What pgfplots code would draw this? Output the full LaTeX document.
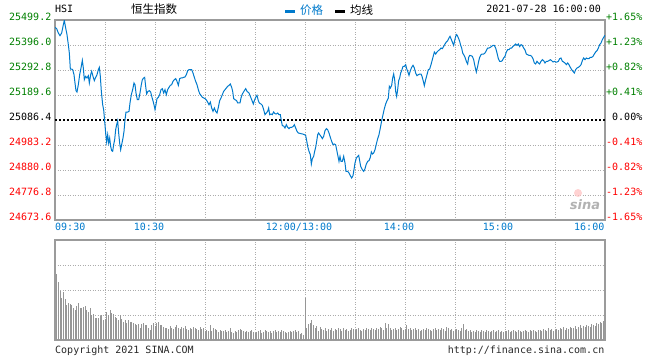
\documentclass[border=0pt]{standalone}
\usepackage{pgfplots}
\pgfplotsset{compat=1.18}
\usepackage{fontspec}
\newfontfamily\mono{DejaVu Sans Mono}
\newfontfamily\cjk{Noto Sans CJK SC}
\newfontfamily\sinafont{DejaVu Sans}
\definecolor{gridc}{RGB}{172,172,172}
\definecolor{borderc}{RGB}{155,155,155}
\definecolor{linec}{RGB}{0,122,204}
\definecolor{gr}{RGB}{0,128,0}
\definecolor{rd}{RGB}{255,0,0}
\definecolor{volc}{RGB}{150,150,150}
\definecolor{txt}{RGB}{40,40,40}
\newcommand{\tf}{\mono\fontsize{10bp}{12bp}\selectfont}

\pgfplotstableread{
t p
0 25468.9
1 25463.4
2 25445.5
3 25434.5
4 25445.5
5 25479.9
5.6 25497.8
6.4 25466.2
7.2 25438.7
8 25397.4
8.6 25363.0
9.2 25296.9
10 25296.9
10.6 25294.2
11.4 25273.5
12 25239.1
12.6 25207.5
13.2 25202.0
14 25232.3
14.8 25273.5
15.6 25301.1
16.4 25332.7
17 25301.1
17.6 25252.9
18.4 25266.7
19.2 25259.8
20 25269.4
20.6 25239.1
21.4 25273.5
22 25287.3
22.8 25266.7
23.6 25248.8
24.4 25262.5
25.2 25273.5
26 25294.2
26.6 25303.8
27.2 25266.7
27.8 25204.7
28.6 25149.7
29.2 25129.1
29.8 25080.9
30.4 25032.7
31 24995.6
31.6 25025.9
32.2 24991.5
32.8 25012.1
33.4 24977.7
34 24959.8
34.6 24957.1
35.2 24984.6
35.8 25005.2
36.4 25046.5
37 25067.1
37.6 25083.6
38.2 25032.7
38.8 24991.5
39.4 24963.9
40 24984.6
40.8 25012.1
41.4 25039.6
42 25087.8
42.6 25119.4
43.6 25119.4
44.4 25122.2
45 25156.6
45.8 25191.0
46.6 25211.6
47.4 25239.1
48 25232.3
48.6 25197.9
49.4 25170.3
50.2 25170.3
51 25197.9
51.8 25232.3
52.4 25252.9
53.2 25259.8
53.8 25262.5
54.4 25225.4
55 25193.7
55.8 25204.7
56.6 25207.5
57.4 25202.0
58.2 25180.0
59 25160.7
59.6 25142.8
60 25129.1
60.6 25149.7
61.2 25174.5
62 25180.0
62.8 25191.0
63.6 25211.6
64.4 25215.7
65.2 25197.9
66 25211.6
66.8 25191.0
67.6 25211.6
68.4 25221.2
69.2 25229.5
70 25232.3
70.8 25246.0
71.6 25252.9
72.4 25257.0
73.2 25246.0
74 25229.5
74.8 25257.0
75.6 25259.8
76.4 25259.8
77.2 25262.5
78 25263.9
78.8 25273.5
79.6 25290.0
80.4 25294.2
81.2 25294.2
82 25294.2
82.8 25280.4
83.6 25262.5
84.4 25246.0
85.2 25232.3
86 25211.6
86.8 25195.1
87.6 25188.2
88.4 25180.0
89.2 25177.2
90 25174.5
90.8 25169.0
91.6 25160.7
92.4 25149.7
93.2 25160.7
94 25135.9
94.8 25122.2
95.6 25135.9
96.4 25122.2
97.2 25115.3
98 25138.7
98.8 25166.2
99.6 25177.2
100.4 25191.0
101.2 25204.7
102 25211.6
102.8 25218.5
103.6 25225.4
104.4 25229.5
105.2 25235.0
106 25221.2
106.6 25204.7
107.2 25174.5
108 25170.3
109 25166.2
109.6 25156.6
111 25156.6
111.6 25177.2
112.4 25193.7
113.6 25207.5
114.4 25215.7
115.2 25204.7
116.4 25197.9
117.2 25184.1
118 25170.3
119 25152.4
119.6 25166.2
120.4 25180.0
121.2 25188.2
122 25166.2
122.6 25156.6
123.6 25152.4
124.4 25146.9
125.2 25129.1
126 25108.4
126.8 25115.3
127.6 25122.2
128.2 25135.9
128.8 25108.4
129.6 25111.2
130.4 25108.4
131.2 25119.4
132 25112.5
132.8 25111.2
133.6 25115.3
134.4 25108.4
135.2 25108.4
135.8 25083.6
136.4 25063.0
137.2 25061.6
138 25053.4
138.8 25067.1
139.6 25056.1
140.4 25050.6
141.2 25056.1
142 25056.1
142.8 25058.9
143.6 25067.1
144.4 25053.4
145.2 25039.6
146 25032.7
146.8 25031.4
147.6 25030.0
148.6 25028.6
149.6 25025.9
150.4 25023.1
151 25001.1
151.6 24977.7
152.4 24957.1
153.2 24943.3
153.8 24904.8
154.4 24926.8
155.2 24936.4
155.8 24957.1
156.4 24973.6
157 24998.3
157.6 25025.9
158.2 25032.7
158.8 25025.9
159.6 25019.0
160.4 25009.3
161.2 25019.0
162 25042.4
162.8 25050.6
163.6 25046.5
164.4 25032.7
165.2 25014.8
166 24998.3
166.8 24984.6
167.6 24987.3
168.4 24984.6
169 24963.9
169.6 24943.3
170.4 24915.8
171 24936.4
171.6 24915.8
172.4 24915.8
173.2 24936.4
174 24908.9
174.6 24874.5
175.6 24874.5
176.4 24867.6
177.2 24856.6
178 24847.0
178.8 24856.6
179.4 24881.4
180 24908.9
180.8 24929.5
181.6 24936.4
182.2 24940.5
182.8 24918.5
183.4 24895.1
184.4 24881.4
185.2 24874.5
186 24885.5
186.8 24904.8
187.6 24915.8
188.4 24918.5
189.2 24932.3
189.8 24954.3
190.4 24946.0
191.2 24950.2
192 24963.9
192.8 24987.3
193.6 25009.3
194.4 25025.9
195.2 25053.4
196 25083.6
196.8 25108.4
197.6 25133.2
198.4 25152.4
199.2 25166.2
200 25177.2
200.6 25225.4
201.2 25218.5
202 25229.5
202.6 25259.8
203.2 25276.3
203.8 25252.9
204.4 25204.7
205 25184.1
205.6 25211.6
206.2 25248.8
206.8 25259.8
207.4 25280.4
208 25290.0
208.8 25307.9
209.6 25307.9
210.4 25314.8
211 25298.3
211.6 25287.3
212.4 25270.8
213.2 25290.0
214 25303.8
214.8 25312.1
215.6 25301.1
216.4 25280.4
217.2 25269.4
218 25273.5
218.8 25276.3
219.6 25276.3
220.2 25266.7
221 25246.0
221.6 25228.1
222.4 25252.9
223.2 25273.5
224 25294.2
224.8 25296.9
225.6 25314.8
226.4 25335.5
227.2 25356.1
227.6 25367.1
228.4 25358.8
229.2 25367.1
230 25372.6
230.8 25376.7
231.6 25383.6
232.4 25380.9
233.2 25390.5
234 25400.1
234.8 25408.4
235.6 25413.9
236.4 25424.9
237 25431.8
237.6 25422.1
238.4 25408.4
239.2 25394.6
239.8 25413.9
240.4 25431.8
241 25438.7
241.6 25431.8
242.2 25422.1
242.8 25411.1
243.4 25394.6
244 25383.6
244.6 25363.0
245.2 25356.1
246 25345.1
246.8 25328.6
247.6 25317.6
248.2 25345.1
248.8 25353.3
249.6 25351.9
250.4 25349.2
251.2 25335.5
252 25307.9
252.8 25284.5
253.6 25307.9
254.2 25328.6
254.8 25345.1
255.6 25356.1
256.4 25358.8
257.2 25358.8
258 25363.0
258.8 25372.6
259.6 25383.6
260.4 25383.6
261.2 25386.4
262 25390.5
262.8 25394.6
263.6 25394.6
264.4 25383.6
265.2 25363.0
266 25339.6
266.8 25328.6
267.6 25328.6
268.4 25331.3
269.2 25342.3
270 25349.2
270.8 25367.1
271.6 25376.7
272.4 25376.7
273.2 25383.6
274 25383.6
274.8 25390.5
275.6 25394.6
276.4 25400.1
277.2 25394.6
278 25400.1
278.8 25389.1
279.6 25397.4
280.4 25394.6
281.2 25383.6
282 25375.4
282.8 25358.8
283.6 25356.1
284.4 25353.3
285.2 25353.3
286 25349.2
286.8 25339.6
287.6 25321.7
288.4 25317.6
289.2 25328.6
290 25321.7
290.8 25317.6
291.6 25328.6
292.4 25335.5
293.2 25331.3
294 25321.7
294.8 25328.6
295.6 25328.6
296.4 25331.3
297.2 25335.5
298 25331.3
298.8 25325.8
299.6 25328.6
300.4 25325.8
301.2 25325.8
302 25328.6
302.8 25339.6
303.6 25342.3
304.4 25328.6
305.2 25325.8
306 25321.7
306.8 25314.8
307.6 25321.7
308.4 25314.8
309.2 25303.8
310 25294.2
310.8 25287.3
311.6 25280.4
312.4 25294.2
313.2 25301.1
314 25303.8
314.8 25307.9
315.6 25314.8
316.4 25331.3
317.2 25342.3
318 25335.5
318.8 25342.3
319.6 25339.6
320.4 25339.6
321.2 25345.1
322 25345.1
322.8 25349.2
323.6 25358.8
324.4 25367.1
325.2 25372.6
326 25383.6
326.8 25397.4
327.6 25404.3
328.4 25418.0
329.2 25427.6
330 25435.9
}\pricetable

\pgfplotstableread{
t v
1 66
2 58
3 49
4 42
5 48
6 41
7 35
8 37
9 36
10 35
11 32
12 30
13 34
14 37
15 32
16 32
17 33
18 34
19 30
20 28
21 32
22 25
23 26
24 22
25 22
26 22
27 24
28 25
29 20
30 21
31 28
32 25
33 30
34 27
35 26
36 23
37 22
38 20
39 25
40 21
41 18
42 20
43 17
44 20
45 18
46 18
47 17
48 16
49 15
50 16
51 12
52 16
53 17
54 15
55 15
56 12
57 10
58 15
59 17
60 14
61 17
62 18
63 15
64 15
65 13
66 12
67 12
68 11
69 14
70 12
71 11
72 13
73 15
74 12
75 11
76 13
77 12
78 14
79 11
80 10
81 12
82 11
83 13
84 12
85 11
86 10
87 13
88 11
89 12
90 9
91 10
92 9
93 15
94 9
95 12
96 11
97 10
98 8
99 10
100 9
101 9
102 10
103 8
104 9
105 12
106 8
107 7
108 9
109 8
110 10
111 11
112 10
113 9
114 8
115 9
116 8
117 9
118 10
119 8
120 7
121 8
122 9
123 10
124 7
125 8
126 10
127 9
128 8
129 9
130 7
131 9
132 10
133 8
134 9
135 8
136 10
137 9
138 8
139 7
140 8
141 9
142 8
143 9
144 10
145 8
146 9
147 6
148 7
149 5
150 42
151 12
152 16
153 17
154 20
155 15
156 12
157 14
158 9
159 13
160 11
161 10
162 12
163 9
164 11
165 10
166 12
167 9
168 11
169 10
170 12
171 11
172 9
173 12
174 10
175 11
176 9
177 10
178 12
179 11
180 10
181 11
182 12
183 10
184 9
185 11
186 10
187 12
188 11
189 10
190 12
191 11
192 10
193 12
194 11
195 13
196 12
197 10
198 17
199 12
200 16
201 12
202 10
203 11
204 12
205 10
206 11
207 13
208 12
209 10
210 11
211 15
212 11
213 12
214 10
215 11
216 12
217 10
218 11
219 9
220 10
221 11
222 10
223 12
224 11
225 10
226 9
227 11
228 12
229 10
230 11
231 10
232 12
233 11
234 9
235 13
236 12
237 10
238 11
239 9
240 10
241 11
242 10
243 9
244 12
245 16
246 10
247 11
248 9
249 10
250 8
251 9
252 8
253 10
254 9
255 8
256 10
257 9
258 8
259 10
260 9
261 8
262 9
263 10
264 8
265 9
266 10
267 8
268 9
269 8
270 9
271 9
272 10
273 8
274 9
275 10
276 9
277 8
278 10
279 9
280 8
281 9
282 10
283 9
284 8
285 10
286 9
287 10
288 9
289 8
290 10
291 10
292 9
293 11
294 10
295 9
296 12
297 10
298 11
299 9
300 10
301 11
302 10
303 12
304 11
305 13
306 10
307 12
308 11
309 13
310 12
311 12
312 14
313 11
314 13
315 15
316 12
317 14
318 13
319 15
320 14
321 13
322 16
323 15
324 14
325 17
326 16
327 18
328 17
329 19
330 20
}\voltable

\begin{document}
\begin{tikzpicture}
\path[use as bounding box] (0,0) rectangle (660bp,-360bp);

% ---------- price panel ----------
\begin{axis}[
  at={(55bp,-220bp)}, anchor=south west, scale only axis,
  width=550bp, height=200bp,
  xmin=0, xmax=330, ymin=24673.6, ymax=25499.2,
  xtick={30,60,...,300},
  ytick={24776.8,24880.0,24983.2,25189.6,25292.8,25396.0},
  xticklabels={}, yticklabels={},
  scaled x ticks=false, scaled y ticks=false,
  major tick length=0pt,
  grid=major,
  major grid style={gridc, line width=1bp, dash pattern=on 1bp off 1.5bp},
  axis line style={borderc, line width=1.3bp},
]
\addplot[black, line width=1.1bp, dash pattern=on 2bp off 2bp] coordinates {(0,25086.4) (330,25086.4)};
\addplot[linec, line width=1bp, line join=miter] table[x=t, y=p] {\pricetable};
\end{axis}

% ---------- volume panel ----------
\begin{axis}[
  at={(55bp,-340bp)}, anchor=south west, scale only axis,
  width=550bp, height=100bp,
  xmin=0, xmax=330, ymin=0, ymax=100,
  xtick={30,60,...,300},
  ytick={25,50,75},
  xticklabels={}, yticklabels={},
  scaled x ticks=false, scaled y ticks=false,
  major tick length=0pt,
  grid=major,
  major grid style={gridc, line width=1bp, dash pattern=on 1bp off 1.5bp},
  axis line style={borderc, line width=1.3bp},
]
\addplot[ycomb, volc, line width=1bp, mark=none] table[x=t, y=v] {\voltable};
\end{axis}

% ---------- header ----------
\node[anchor=base west, inner sep=0pt, text=black] at (55bp,-12.7bp) {\tf HSI};
\node[anchor=center, inner sep=0pt, text=black] at (154bp,-9.5bp) {\cjk\fontsize{11.5bp}{13bp}\selectfont 恒生指数};
\fill[linec] (285bp,-10bp) rectangle (295bp,-12.5bp);
\node[anchor=west, inner sep=0pt, text=linec] at (300bp,-10bp) {\cjk\fontsize{11.5bp}{13bp}\selectfont 价格};
\fill[black] (335bp,-10bp) rectangle (345bp,-12.5bp);
\node[anchor=west, inner sep=0pt, text=black] at (350bp,-10bp) {\cjk\fontsize{11.5bp}{13bp}\selectfont 均线};
\node[anchor=base east, inner sep=0pt, text=black] at (601bp,-12.7bp) {\tf 2021-07-28 16:00:00};

% ---------- left price labels ----------
\foreach \yy/\lab/\col in {20/25499.2/gr, 45/25396.0/gr, 70/25292.8/gr, 95/25189.6/gr, 120/25086.4/black, 145/24983.2/rd, 170/24880.0/rd, 195/24776.8/rd, 220/24673.6/rd}{
  \node[anchor=base east, inner sep=0pt, text=\col] at (51.5bp,-\yy bp) {\tf \lab};
}
% ---------- right percent labels ----------
\foreach \yy/\lab/\col in {20/+1.65\%/gr, 45/+1.23\%/gr, 70/+0.82\%/gr, 95/+0.41\%/gr, 120/0.00\%/black, 145/-0.41\%/rd, 170/-0.82\%/rd, 195/-1.23\%/rd, 220/-1.65\%/rd}{
  \node[anchor=base east, inner sep=0pt, text=\col] at (642.5bp,-\yy bp) {\tf \lab};
}
% ---------- time labels ----------
\node[anchor=base west, inner sep=0pt, text=linec] at (55bp,-230.5bp) {\tf 09:30};
\node[anchor=base, inner sep=0pt, text=linec] at (149bp,-230.5bp) {\tf 10:30};
\node[anchor=base, inner sep=0pt, text=linec] at (299bp,-230.5bp) {\tf 12:00/13:00};
\node[anchor=base, inner sep=0pt, text=linec] at (399bp,-230.5bp) {\tf 14:00};
\node[anchor=base, inner sep=0pt, text=linec] at (498bp,-230.5bp) {\tf 15:00};
\node[anchor=base east, inner sep=0pt, text=linec] at (604.5bp,-230.5bp) {\tf 16:00};

% ---------- watermark ----------
\fill[red!25, opacity=0.7] (578bp,-193bp) circle (4bp);
\node[anchor=center, inner sep=0pt, text=black!30] at (585bp,-205bp) {\sinafont\bfseries\itshape\fontsize{13bp}{14bp}\selectfont sina};

% ---------- footer ----------
\node[anchor=base west, inner sep=0pt, text=txt] at (55bp,-353bp) {\tf Copyright 2021 SINA.COM};
\node[anchor=base east, inner sep=0pt, text=txt] at (604.5bp,-353bp) {\tf http://finance.sina.com.cn};
\end{tikzpicture}
\end{document}
